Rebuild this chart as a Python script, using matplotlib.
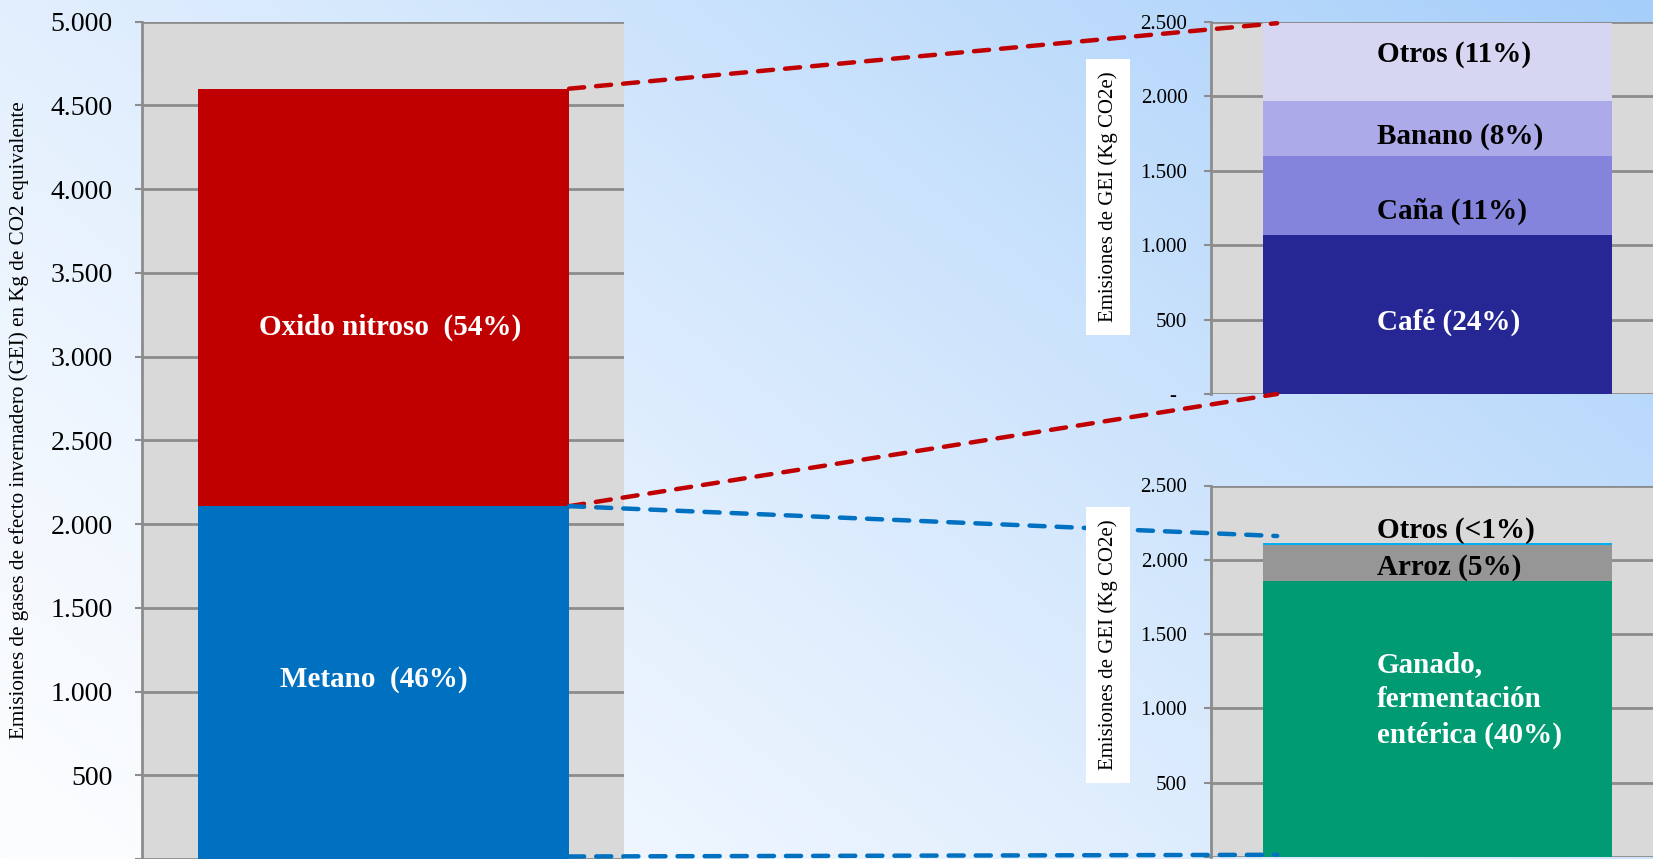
import numpy as np
import matplotlib
matplotlib.use('Agg')
import matplotlib.pyplot as plt
from matplotlib.patches import ConnectionPatch

# ---------------- data ----------------
gas_labels = ['Metano  (46%)', 'Oxido nitroso  (54%)']
gas_values = [2107, 2493]

n2o_labels = ['Café (24%)', 'Caña (11%)', 'Banano (8%)', 'Otros (11%)']
n2o_values = [1070, 530, 370, 520]

ch4_labels = ['Ganado,\nfermentación\nentérica (40%)', 'Arroz (5%)', 'Otros (<1%)']
ch4_values = [1858, 240, 12]

left_ticks = [0, 500, 1000, 1500, 2000, 2500, 3000, 3500, 4000, 4500, 5000]
left_ticklabels = ['', '500', '1.000', '1.500', '2.000', '2.500', '3.000',
                   '3.500', '4.000', '4.500', '5.000']
right_ticks = [0, 500, 1000, 1500, 2000, 2500]
top_ticklabels = ['-  ', '500', '1.000', '1.500', '2.000', '2.500']
bottom_ticklabels = ['', '500', '1.000', '1.500', '2.000', '2.500']

left_ylabel = 'Emisiones de gases de efecto invernadero (GEI) en Kg de CO2 equivalente'
right_ylabel = 'Emisiones de GEI (Kg CO2e)'

# ---------------- styles ----------------
SERIF = ['Liberation Serif', 'DejaVu Serif']
gas_colors = ['#0070C0', '#C00000']
n2o_colors = ['#262695', '#8484DC', '#ADAAE9', '#D6D6F3']
ch4_colors = ['#009B72', '#969696', '#00B0F0']
n2o_text = ['white', 'black', 'black', 'black']
ch4_text = ['white', 'black', 'black']
GRID = '#8C8C8C'
LABEL_FS = 21

W, H = 1653, 859
fig = plt.figure(figsize=(W / 100, H / 100), dpi=100)

# background gradient
bg = fig.add_axes([0, 0, 1, 1], zorder=-10)
xx, yy = np.meshgrid(np.linspace(0, 1, 400), np.linspace(1, 0, 220))
t = np.clip(0.6 * xx + 0.4 * yy, 0, 1) ** 1.3
c0 = np.array([252, 253, 255]) / 255
c1 = np.array([165, 206, 250]) / 255
img = c0[None, None, :] * (1 - t[..., None]) + c1[None, None, :] * t[..., None]
bg.imshow(img, aspect='auto', extent=[0, 1, 0, 1], interpolation='bilinear')
bg.set_axis_off()


def style(ax, ticks, labels, fs, pad, top):
    ax.set_facecolor('#D9D9D9')
    ax.set_xlim(0, 1)
    ax.set_ylim(0, top)
    ax.set_xticks([])
    for s in ['top', 'right', 'bottom']:
        ax.spines[s].set_visible(False)
    ax.spines['left'].set_color(GRID)
    ax.spines['left'].set_linewidth(2)
    ax.set_yticks(ticks)
    ax.set_yticklabels(labels, fontsize=fs, family=SERIF)
    ax.tick_params(axis='y', length=5, width=1.5, color=GRID, pad=pad)
    ax.yaxis.grid(True, color=GRID, linewidth=2)
    ax.set_axisbelow(True)


def fx(px):
    return px / W


def fy(py):
    return 1 - py / H


# ---------------- left chart ----------------
axL = fig.add_axes([fx(142), 0.0, fx(624) - fx(142), fy(21.7)])
style(axL, left_ticks, left_ticklabels, 20, 16, 5000)
bar_left, bar_w = 0.116, 0.77
bottom = 0
for v, c in zip(gas_values, gas_colors):
    axL.bar(bar_left, v, width=bar_w, bottom=bottom, color=c, align='edge', zorder=2)
    bottom += v
label_x_left = [0.481, 0.5145]
left_offsets = [20, -180]
cum = np.cumsum([0] + gas_values)
for i, lab in enumerate(gas_labels):
    axL.text(label_x_left[i], (cum[i] + cum[i + 1]) / 2 + left_offsets[i], lab,
             color='white', fontsize=LABEL_FS, fontweight='bold', family=SERIF,
             ha='center', va='center', zorder=3)

# ---------------- top right chart ----------------
axT = fig.add_axes([fx(1211), fy(394), 1 - fx(1211), fy(21.7) - fy(394)])
style(axT, right_ticks, top_ticklabels, 15, 12, 2500)
rb_left, rb_w = 0.1176, 0.79
cumT = np.cumsum([0] + n2o_values)
for i, (v, c) in enumerate(zip(n2o_values, n2o_colors)):
    axT.bar(rb_left, v, width=rb_w, bottom=cumT[i], color=c, align='edge', zorder=2)
top_offsets = [-52, -106, -54, 51]
for i, lab in enumerate(n2o_labels):
    axT.text(0.3756, (cumT[i] + cumT[i + 1]) / 2 + top_offsets[i], lab,
             color=n2o_text[i], fontsize=LABEL_FS, fontweight='bold', family=SERIF,
             ha='left', va='center', zorder=3)

# ---------------- bottom right chart ----------------
axB = fig.add_axes([fx(1211), fy(857), 1 - fx(1211), fy(485.5) - fy(857)])
style(axB, right_ticks, bottom_ticklabels, 15, 12, 2500)
cumB = np.cumsum([0] + ch4_values)
for i, (v, c) in enumerate(zip(ch4_values, ch4_colors)):
    axB.bar(rb_left, v, width=rb_w, bottom=cumB[i], color=c, align='edge', zorder=2)
bottom_label_y = [(cumB[0] + cumB[1]) / 2 + 130,
                  (cumB[1] + cumB[2]) / 2 - 30,
                  cumB[3] + 88]
for i, lab in enumerate(ch4_labels):
    axB.text(0.3756, bottom_label_y[i], lab, color=ch4_text[i], fontsize=LABEL_FS,
             fontweight='bold', family=SERIF, ha='left', va='center',
             linespacing=1.4, zorder=3)

# ---------------- y labels ----------------
fig.text(fx(19), fy(420), left_ylabel, rotation=90, fontsize=15.2, family=SERIF,
         ha='center', va='center')
for yc in [197, 645]:
    fig.text(fx(1108), fy(yc), right_ylabel, rotation=90, fontsize=15,
             family=SERIF, ha='center', va='center', zorder=20,
             bbox=dict(facecolor='white', edgecolor='none',
                       boxstyle='square,pad=0.6'))

# ---------------- connectors ----------------
bar_right = bar_left + bar_w
end_x = rb_left + 0.032
conn = [
    (gas_values[0] + gas_values[1], axT, cumT[-1], '#C00000'),
    (gas_values[0], axT, 0, '#C00000'),
    (gas_values[0], axB, cumB[-1] + 50, '#0070C0'),
    (15, axB, 15, '#0070C0'),
]
for yA, axTo, yB, col in conn:
    cp = ConnectionPatch(xyA=(bar_right, yA), coordsA=axL.transData,
                         xyB=(end_x, yB), coordsB=axTo.transData,
                         color=col, linewidth=3.2, linestyle=(0, (3.4, 2.7)),
                         zorder=10)
    fig.add_artist(cp)

fig.savefig('out.png', dpi=100)
